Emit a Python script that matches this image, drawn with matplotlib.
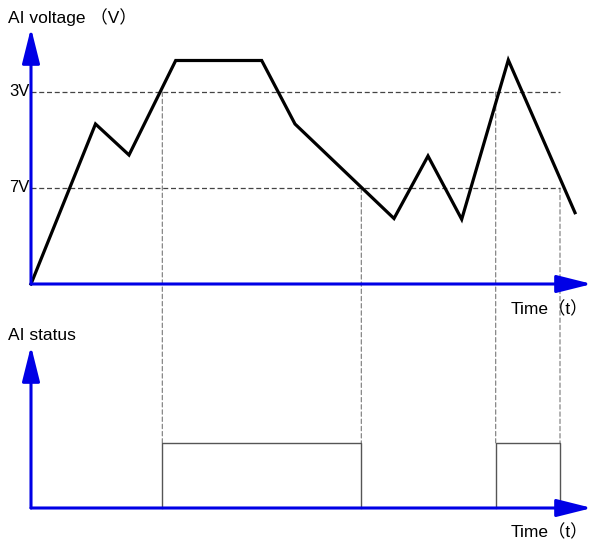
import matplotlib
matplotlib.use("Agg")
import matplotlib.pyplot as plt
from matplotlib.patches import ConnectionPatch

plt.rcParams['font.family'] = ['Liberation Sans', 'Noto Sans CJK SC', 'DejaVu Sans']

# --- data -------------------------------------------------------------
# analog input trace (time units, voltage units)
time_pts = [0, 64.5, 98, 144.7, 230.7, 264, 363, 397, 430.7, 477.3, 544]
volt_pts = [0, 160, 129, 223.5, 223.5, 160, 65.5, 128, 64.7, 224, 71.3]

# thresholds
thr_high = 192     # "3V"
thr_low = 96       # "7V"
thr_labels = ["3V", "7V"]
thr_end = 529

# status pulses: (rise time, fall time)
pulses = [(131.3, 330.3), (464.7, 529)]
pulse_levels = [(thr_high, thr_low), (thr_high, thr_low)]

x_max = 561
v_max = 256
status_max = 2.49

blue = '#0000e6'

fig = plt.figure(figsize=(5.92, 5.39), dpi=100)
W, H = 592, 539
ax_v = fig.add_axes([31 / W, (H - 284) / H, 561 / W, 256 / H])
ax_s = fig.add_axes([31 / W, (H - 508) / H, 561 / W, 162 / H])

for ax in (ax_v, ax_s):
    ax.set_xlim(0, x_max)
    ax.axis('off')
ax_v.set_ylim(0, v_max)
ax_s.set_ylim(0, status_max)


def draw_axes_arrows(ax):
    style = '-|>,head_length=1.2,head_width=0.3'
    kw = dict(arrowstyle=style, mutation_scale=18, color=blue, lw=2.2,
              shrinkA=0, shrinkB=0)
    ax.annotate('', xy=(1, 0), xytext=(0, 0), xycoords='axes fraction',
                arrowprops=kw, annotation_clip=False)
    ax.annotate('', xy=(0, 1), xytext=(0, 0), xycoords='axes fraction',
                arrowprops=kw, annotation_clip=False)


# threshold lines
for lvl, lab in zip([thr_high, thr_low], thr_labels):
    ax_v.plot([0, thr_end], [lvl, lvl], color='#444444', lw=0.9,
              dashes=(4, 2.2), clip_on=False, zorder=1)
    ax_v.text(-1, lvl, lab, ha='right', va='center', fontsize=12,
              color='black', clip_on=False)

# voltage trace
ax_v.plot(time_pts, volt_pts, color='black', lw=2.3,
          solid_joinstyle='miter', clip_on=False, zorder=3)

# vertical guides from the threshold crossing down to the status high level
for (t_on, t_off), (l_on, l_off) in zip(pulses, pulse_levels):
    for t, lvl in ((t_on, l_on), (t_off, l_off)):
        con = ConnectionPatch(xyA=(t, lvl), coordsA=ax_v.transData,
                              xyB=(t, 1), coordsB=ax_s.transData,
                              color='#777777', lw=0.8, linestyle=(0, (4, 2.5)),
                              zorder=0)
        fig.add_artist(con)
    ax_s.plot([t_on, t_on, t_off, t_off], [0, 1, 1, 0], color='#555555',
              lw=1.0, clip_on=False, zorder=2)

draw_axes_arrows(ax_v)
draw_axes_arrows(ax_s)

fig.text(8 / W, 1 - 17 / H, 'AI voltage （V）', ha='left', va='center',
         fontsize=12.5)
fig.text(8 / W, 1 - 336 / H, 'AI status', ha='left', va='center',
         fontsize=12.5)
fig.text(588 / W, 1 - 309 / H, 'Time（t）', ha='right', va='center',
         fontsize=12.5)
fig.text(588 / W, 1 - 532 / H, 'Time（t）', ha='right', va='center',
         fontsize=12.5)

fig.savefig('out.png', dpi=100, facecolor='white')
